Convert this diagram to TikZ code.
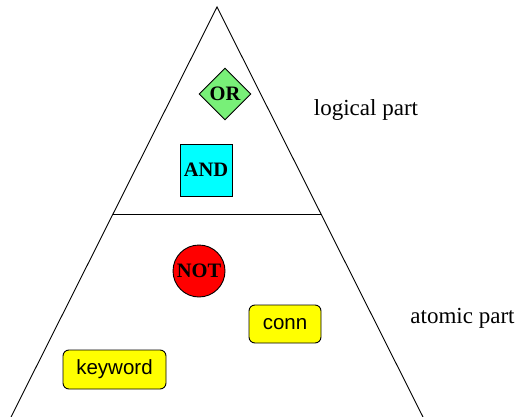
\documentclass[tikz,border=0pt]{standalone}
\usepackage{fontspec}
\setmainfont{Liberation Serif}
\setsansfont{Liberation Sans}
\usetikzlibrary{shapes.geometric}
\definecolor{orgreen}{RGB}{120,240,120}
\definecolor{andcyan}{RGB}{0,255,255}
\definecolor{notred}{RGB}{255,0,0}
\definecolor{atomyellow}{RGB}{255,255,0}
\begin{document}
\begin{tikzpicture}[x=1pt,y=-1pt,
  edge/.style={line width=0.9pt},
  logic/.style={draw, line width=0.9pt, font=\fontsize{20.5}{24}\selectfont\bfseries, inner sep=0pt},
  atom/.style={draw, line width=0.9pt, fill=atomyellow, rounded corners=6pt, font=\sffamily\fontsize{20.5}{24}\selectfont, inner sep=0pt},
  lbl/.style={font=\fontsize{23}{26}\selectfont, inner sep=0pt}]
\useasboundingbox (0,0) rectangle (516,417);
\coordinate (apex) at (217,7);
\coordinate (bl) at (11,417);
\coordinate (br) at (423,417);
\coordinate (ml) at (113,214);
\coordinate (mr) at (321,214);
\draw[edge] (bl) -- (apex) -- (br);
\draw[edge] (ml) -- (mr);
\node[logic, diamond, fill=orgreen, minimum width=52pt, minimum height=52pt] (or) at (225,94) {OR};
\node[logic, rectangle, fill=andcyan, minimum width=52pt, minimum height=52pt] (and) at (206,170) {AND};
\node[logic, circle, fill=notred, minimum size=52pt] (not) at (199,271) {NOT};
\node[atom, minimum width=72pt, minimum height=38pt] (conn) at (285,324) {conn};
\node[atom, minimum width=103pt, minimum height=39pt] (keyword) at (114.5,369.5) {keyword};
\node[lbl] (logical) at (366,110) {logical part};
\node[lbl] (atomic) at (462.5,318) {atomic part};
\end{tikzpicture}
\end{document}
